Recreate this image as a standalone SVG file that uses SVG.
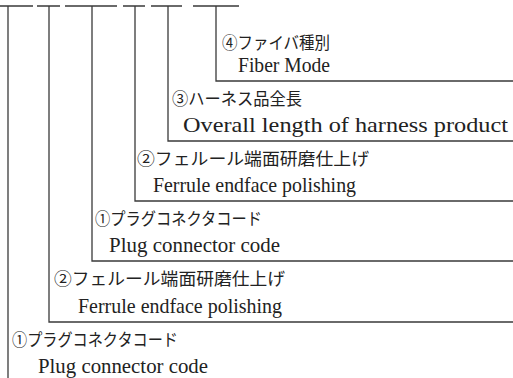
<svg xmlns="http://www.w3.org/2000/svg" width="513" height="378" viewBox="0 0 513 378">
<style>
.ln{stroke:#3a3a3a;stroke-width:1.3;fill:none}
.jp{font-family:"Liberation Serif","Noto Sans CJK JP",serif;font-size:17px;fill:#222}
.en{font-family:"Liberation Serif","Noto Sans CJK JP",serif;font-size:21px;fill:#222}
</style>
<rect width="513" height="378" fill="#fff"/>
<g id="connectors" class="ln">
<path d="M0 6H33M37 6H60M65 6H117M123 6H145M151 6H182M193 6H239"/>
<path d="M216 6V81H513"/>
<path d="M168 6V141H513"/>
<path d="M135 6V201H513"/>
<path d="M92 6V261H513"/>
<path d="M49 6V322H513"/>
<path d="M8 6V378"/>
</g>
<g id="n4"><text class="jp" x="222" y="49" textLength="108" lengthAdjust="spacingAndGlyphs">④ファイバ種別</text><text class="en" x="238" y="72" textLength="92" lengthAdjust="spacingAndGlyphs">Fiber Mode</text></g>
<g id="n3"><text class="jp" x="172" y="105" textLength="130" lengthAdjust="spacingAndGlyphs">③ハーネス品全長</text><text class="en" x="183" y="132" textLength="325" lengthAdjust="spacingAndGlyphs">Overall length of harness product</text></g>
<g id="n2b"><text class="jp" x="137" y="165" textLength="232" lengthAdjust="spacingAndGlyphs">②フェルール端面研磨仕上げ</text><text class="en" x="153" y="192" textLength="203" lengthAdjust="spacingAndGlyphs">Ferrule endface polishing</text></g>
<g id="n1b"><text class="jp" x="95" y="225" textLength="167" lengthAdjust="spacingAndGlyphs">①プラグコネクタコード</text><text class="en" x="109" y="252" textLength="171" lengthAdjust="spacingAndGlyphs">Plug connector code</text></g>
<g id="n2a"><text class="jp" x="54" y="285" textLength="231" lengthAdjust="spacingAndGlyphs">②フェルール端面研磨仕上げ</text><text class="en" x="78" y="313" textLength="204" lengthAdjust="spacingAndGlyphs">Ferrule endface polishing</text></g>
<g id="n1a"><text class="jp" x="12" y="346" textLength="166" lengthAdjust="spacingAndGlyphs">①プラグコネクタコード</text><text class="en" x="38" y="373" textLength="170" lengthAdjust="spacingAndGlyphs">Plug connector code</text></g>
</svg>
